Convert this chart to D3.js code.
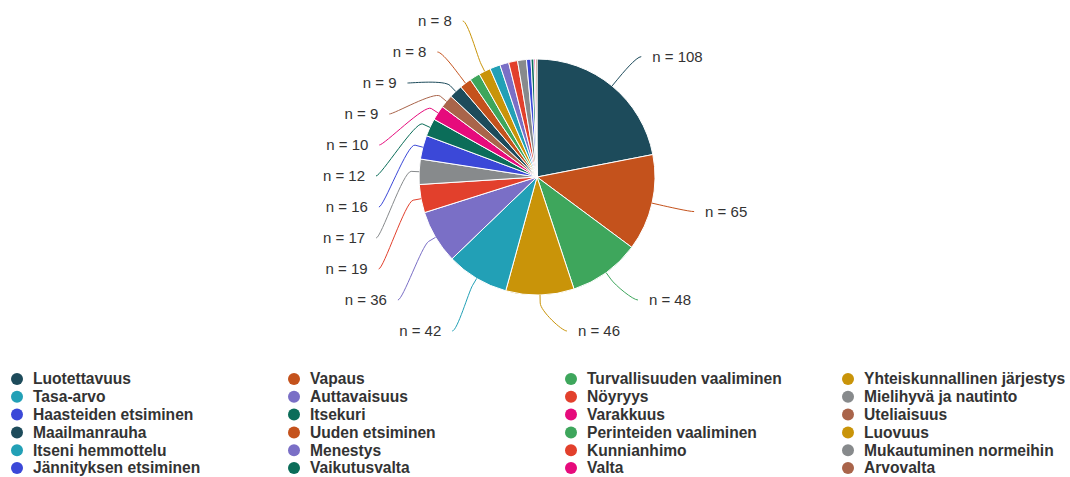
<!DOCTYPE html>
<html>
<head>
<meta charset="utf-8">
<script src="https://cdn.jsdelivr.net/npm/d3@7"></script>
<style>
body{margin:0;background:#fff;}
text{font-family:"Liberation Sans",Arial,sans-serif;}
</style>
</head>
<body>
<script>
// categories in series order (legend reads row by row)
var categories = [
	"Luotettavuus", "Vapaus", "Turvallisuuden vaaliminen", "Yhteiskunnallinen järjestys",
	"Tasa-arvo", "Auttavaisuus", "Nöyryys", "Mielihyvä ja nautinto",
	"Haasteiden etsiminen", "Itsekuri", "Varakkuus", "Uteliaisuus",
	"Maailmanrauha", "Uuden etsiminen", "Perinteiden vaaliminen", "Luovuus",
	"Itseni hemmottelu", "Menestys", "Kunnianhimo", "Mukautuminen normeihin",
	"Jännityksen etsiminen", "Vaikutusvalta", "Valta", "Arvovalta"
];
var values = [108, 65, 48, 46, 42, 36, 19, 17, 16, 12, 10, 9, 9, 8, 7, 8, 7, 6, 6, 6, 3, 2, 1, 1];
var colors = ["#1d4b5b", "#c4521c", "#3ea65c", "#c99409", "#22a0b6", "#7a6fc6",
	"#e2402c", "#878a8c", "#3b48d8", "#0b6d59", "#e60b7c", "#a9644a"];

var width = 1070, height = 477;
var cx = 537, cy = 177, radius = 118;
var labelDistance = 38, connectorPadding = 5, textGap = 11, labelSpacing = 31;
var labelTop = 19, labelBottom = 331;

var svg = d3.select("body").append("svg")
	.attr("width", width)
	.attr("height", height);

var data = categories.map(function(c, i){
	return {name: c, value: values[i], color: colors[i % colors.length]};
});

var pie = d3.pie().sort(null).value(function(d){ return d.value; });
var arcs = pie(data);
var arc = d3.arc().innerRadius(0).outerRadius(radius);

var g = svg.append("g").attr("transform", "translate(" + cx + "," + cy + ")");

g.selectAll("path.slice")
	.data(arcs)
	.enter()
	.append("path")
	.attr("class", "slice")
	.attr("d", arc)
	.attr("fill", function(d){ return d.data.color; })
	.attr("stroke", "#fff")
	.attr("stroke-width", 1)
	.attr("stroke-linejoin", "round");

// point on a circle of radius r at d3 angle a (0 = top, clockwise)
var pt = function(a, r){ return [Math.sin(a) * r, -Math.cos(a) * r]; };

var R = radius + labelDistance;
arcs.forEach(function(d){
	d.mid = (d.startAngle + d.endAngle) / 2;
	d.left = d.mid > Math.PI;
	var n = pt(d.mid, R);
	d.natX = n[0];
	d.natY = n[1];
});

var capacity = Math.floor((labelBottom - labelTop) / labelSpacing) + 1;

// spread labels of one side so they don't overlap
var placeSide = function(side){
	var list = arcs.filter(function(d){ return d.left === side; });
	var kept = list.slice().sort(function(a, b){ return b.value - a.value; }).slice(0, capacity);
	kept.sort(function(a, b){ return a.natY - b.natY; });
	var top = labelTop - cy, bottom = labelBottom - cy;
	var prev = -Infinity;
	kept.forEach(function(d){
		d.ly = Math.max(d.natY, top, prev + labelSpacing);
		prev = d.ly;
	});
	var next = Infinity;
	for(var i = kept.length - 1; i >= 0; i--){
		kept[i].ly = Math.min(kept[i].ly, bottom, next - labelSpacing);
		next = kept[i].ly;
	}
	kept.forEach(function(d){
		var dx = Math.sqrt(Math.max(0, R * R - d.ly * d.ly));
		dx = Math.max(dx, Math.abs(d.natX)) + connectorPadding;
		d.lx = side ? -dx : dx;
	});
	return kept;
};

var labelled = placeSide(false).concat(placeSide(true));

var connector = function(d){
	var touch = pt(d.mid, radius);
	var brk = pt(d.mid, radius + 8);
	var c1x = d.lx + (d.left ? 5 : -5);
	return "M" + d.lx + "," + d.ly +
		"C" + c1x + "," + d.ly + " " + (2 * brk[0] - touch[0]) + "," + (2 * brk[1] - touch[1]) + " " + brk[0] + "," + brk[1] +
		"L" + touch[0] + "," + touch[1];
};

g.selectAll("path.connector")
	.data(labelled)
	.enter()
	.append("path")
	.attr("class", "connector")
	.attr("d", connector)
	.attr("fill", "none")
	.attr("stroke", function(d){ return d.data.color; })
	.attr("stroke-width", 1);

g.selectAll("text.label")
	.data(labelled)
	.enter()
	.append("text")
	.attr("class", "label")
	.attr("x", function(d){ return d.lx + (d.left ? -textGap : textGap); })
	.attr("y", function(d){ return d.ly; })
	.attr("dy", "0.35em")
	.attr("text-anchor", function(d){ return d.left ? "end" : "start"; })
	.attr("font-size", "15px")
	.attr("fill", "#333")
	.text(function(d){ return "n = " + d.value; });

// legend, 4 columns, filled row by row
var legendX = 17, legendY = 379, colStep = 277, rowStep = 17.8;
var legend = svg.append("g").attr("class", "legend");
var items = legend.selectAll("g.item")
	.data(data)
	.enter()
	.append("g")
	.attr("class", "item")
	.attr("transform", function(d, i){
		return "translate(" + (legendX + (i % 4) * colStep) + "," + (legendY + Math.floor(i / 4) * rowStep) + ")";
	});

items.append("circle")
	.attr("r", 6)
	.attr("fill", function(d){ return d.color; });

items.append("text")
	.attr("x", 16)
	.attr("dy", "0.35em")
	.attr("font-size", "15.6px")
	.attr("font-weight", "bold")
	.attr("fill", "#333")
	.text(function(d){ return d.name; });
</script>
</body>
</html>
